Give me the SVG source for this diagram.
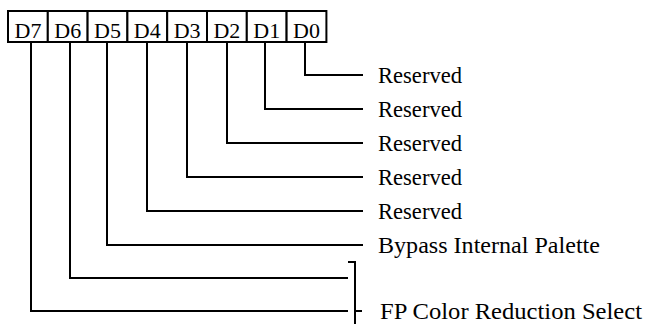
<svg xmlns="http://www.w3.org/2000/svg" width="648" height="326" viewBox="0 0 648 326">
<style>
.box{fill:#fff;stroke:#000;stroke-width:2}
.bl{font-family:"Liberation Serif","Times New Roman",serif;font-size:22px;fill:#000;text-anchor:middle}
.lbl{font-family:"Liberation Serif","Times New Roman",serif;font-size:23.5px;fill:#000}
.ln{fill:none;stroke:#000;stroke-width:2}
</style>
<rect width="648" height="326" fill="#fff"/>
<g id="register">
<g id="bit-D7"><rect class="box" x="8" y="11" width="39.8" height="31"/><text class="bl" x="28" y="37.5">D7</text></g>
<g id="bit-D6"><rect class="box" x="47.8" y="11" width="39.8" height="31"/><text class="bl" x="67.7" y="37.5">D6</text></g>
<g id="bit-D5"><rect class="box" x="87.6" y="11" width="39.8" height="31"/><text class="bl" x="107.5" y="37.5">D5</text></g>
<g id="bit-D4"><rect class="box" x="127.4" y="11" width="39.8" height="31"/><text class="bl" x="147.3" y="37.5">D4</text></g>
<g id="bit-D3"><rect class="box" x="167.2" y="11" width="39.8" height="31"/><text class="bl" x="187.1" y="37.5">D3</text></g>
<g id="bit-D2"><rect class="box" x="207" y="11" width="39.8" height="31"/><text class="bl" x="226.9" y="37.5">D2</text></g>
<g id="bit-D1"><rect class="box" x="246.8" y="11" width="39.8" height="31"/><text class="bl" x="266.7" y="37.5">D1</text></g>
<g id="bit-D0"><rect class="box" x="286.6" y="11" width="39.8" height="31"/><text class="bl" x="306.5" y="37.5">D0</text></g>
</g>
<g id="connectors">
<polyline class="ln" points="305,42 305,75 363,75"/>
<polyline class="ln" points="265,42 265,109 363,109"/>
<polyline class="ln" points="227,42 227,143 363,143"/>
<polyline class="ln" points="187,42 187,177 363,177"/>
<polyline class="ln" points="147,42 147,211 363,211"/>
<polyline class="ln" points="107,42 107,245 363,245"/>
<polyline class="ln" points="70,42 70,278 348,278"/>
<polyline class="ln" points="31,42 31,311 348,311"/>
<polyline class="ln" points="348,262 355,262 355,324"/>
<line class="ln" x1="355" y1="311" x2="362" y2="311"/>
</g>
<g id="labels">
<text class="lbl" x="378" y="82.5" textLength="84" lengthAdjust="spacingAndGlyphs">Reserved</text>
<text class="lbl" x="378" y="116.5" textLength="84" lengthAdjust="spacingAndGlyphs">Reserved</text>
<text class="lbl" x="378" y="150.5" textLength="84" lengthAdjust="spacingAndGlyphs">Reserved</text>
<text class="lbl" x="378" y="184.5" textLength="84" lengthAdjust="spacingAndGlyphs">Reserved</text>
<text class="lbl" x="378" y="218.5" textLength="84" lengthAdjust="spacingAndGlyphs">Reserved</text>
<text class="lbl" x="378" y="252.5" textLength="222" lengthAdjust="spacingAndGlyphs">Bypass Internal Palette</text>
<text class="lbl" x="380" y="318.5" textLength="262" lengthAdjust="spacingAndGlyphs">FP Color Reduction Select</text>
</g>
</svg>
